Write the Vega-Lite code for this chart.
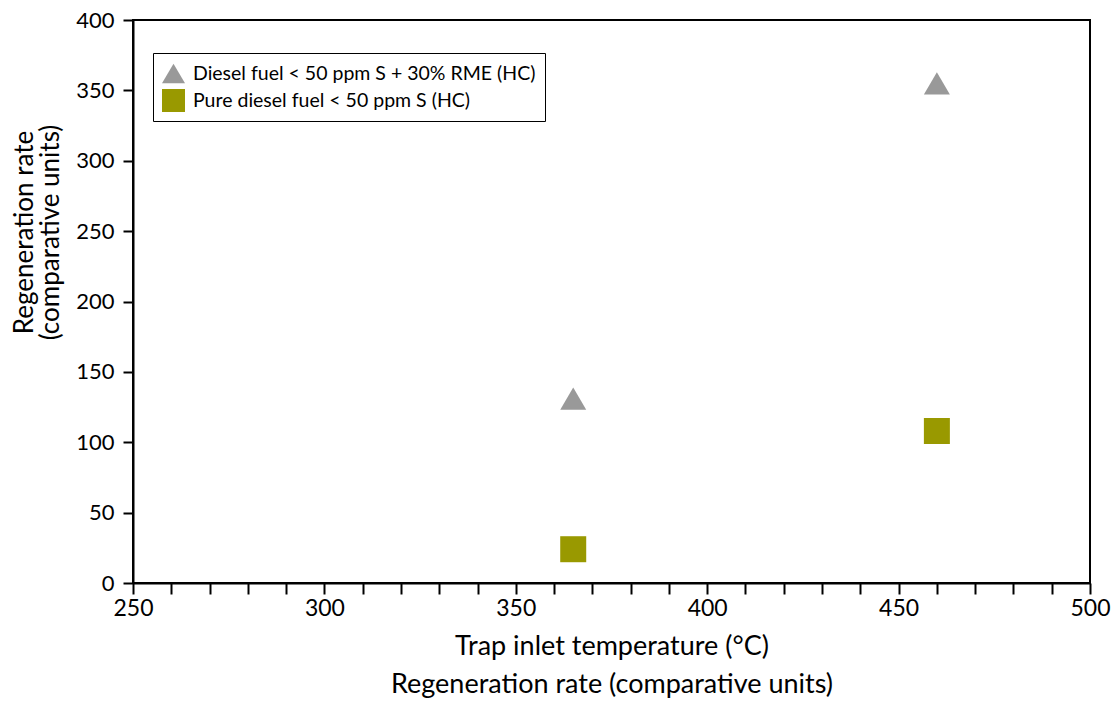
{
  "$schema": "https://vega.github.io/schema/vega-lite/v6.json",
  "width": 957,
  "height": 563,
  "autosize": "none",
  "padding": {"left": 133, "top": 20, "right": 26, "bottom": 121},
  "background": "white",
  "config": {
    "font": "Lato",
    "view": {"stroke": "black", "strokeWidth": 2},
    "axis": {
      "domainColor": "black",
      "domainWidth": 2,
      "tickColor": "black",
      "tickWidth": 2,
      "grid": false,
      "labelColor": "black",
      "titleColor": "black",
      "labelFont": "Lato",
      "titleFont": "Lato",
      "titleFontWeight": "normal"
    }
  },
  "data": {
    "values": [
      {"fuel": "Diesel fuel < 50 ppm S + 30% RME (HC)", "temp": 365, "rate": 131},
      {"fuel": "Diesel fuel < 50 ppm S + 30% RME (HC)", "temp": 460, "rate": 355},
      {"fuel": "Pure diesel fuel < 50 ppm S (HC)", "temp": 365, "rate": 24},
      {"fuel": "Pure diesel fuel < 50 ppm S (HC)", "temp": 460, "rate": 108}
    ]
  },
  "mark": {"type": "point", "filled": true, "opacity": 1, "size": 676},
  "encoding": {
    "x": {
      "field": "temp",
      "type": "quantitative",
      "scale": {"domain": [250, 500], "nice": false, "zero": false},
      "axis": {
        "values": [250, 260, 270, 280, 290, 300, 310, 320, 330, 340, 350, 360, 370, 380, 390, 400, 410, 420, 430, 440, 450, 460, 470, 480, 490, 500],
        "labelExpr": "datum.value % 50 === 0 ? datum.label : ''",
        "tickSize": 11,
        "labelFontSize": 23,
        "labelPadding": 3,
        "labelFlush": false,
        "labelOverlap": false,
        "title": ["Trap inlet temperature (°C)", "Regeneration rate (comparative units)"],
        "titleFontSize": 27,
        "titleLineHeight": 38,
        "titlePadding": 13,
        "encode": {
          "ticks": {"update": {"y2": {"signal": "datum.value % 50 === 0 ? 11 : 8"}}}
        }
      }
    },
    "y": {
      "field": "rate",
      "type": "quantitative",
      "scale": {"domain": [0, 400], "nice": false},
      "axis": {
        "values": [0, 50, 100, 150, 200, 250, 300, 350, 400],
        "tickSize": 10,
        "labelFontSize": 22,
        "labelPadding": 9,
        "labelFlush": false,
        "labelOverlap": false,
        "title": ["Regeneration rate", "(comparative units)"],
        "titleFontSize": 26,
        "titleLineHeight": 26,
        "titleAngle": -90,
        "titleAlign": "center",
        "titleBaseline": "alphabetic",
        "titleX": -101,
        "titleY": 212
      }
    },
    "color": {
      "field": "fuel",
      "type": "nominal",
      "scale": {
        "domain": ["Diesel fuel < 50 ppm S + 30% RME (HC)", "Pure diesel fuel < 50 ppm S (HC)"],
        "range": ["#999999", "#999900"]
      },
      "legend": {
        "title": null,
        "orient": "none",
        "legendX": 20,
        "legendY": 33,
        "strokeColor": "black",
        "fillColor": "white",
        "padding": 9,
        "symbolSize": 529,
        "symbolStrokeWidth": 0,
        "labelFontSize": 19.5,
        "labelColor": "black",
        "labelLimit": 500,
        "rowPadding": 5,
        "labelOffset": 8,
        "encode": {"legend": {"update": {"strokeWidth": {"value": 1.5}}}}
      }
    },
    "shape": {
      "field": "fuel",
      "type": "nominal",
      "scale": {
        "domain": ["Diesel fuel < 50 ppm S + 30% RME (HC)", "Pure diesel fuel < 50 ppm S (HC)"],
        "range": ["M-1,0.85L1,0.85L0,-0.85Z", "square"]
      },
      "legend": {
        "title": null,
        "orient": "none",
        "legendX": 20,
        "legendY": 33,
        "strokeColor": "black",
        "fillColor": "white",
        "padding": 9,
        "symbolSize": 529,
        "symbolStrokeWidth": 0,
        "labelFontSize": 19.5,
        "labelColor": "black",
        "labelLimit": 500,
        "rowPadding": 5,
        "labelOffset": 8,
        "encode": {"legend": {"update": {"strokeWidth": {"value": 1.5}}}}
      }
    }
  }
}
